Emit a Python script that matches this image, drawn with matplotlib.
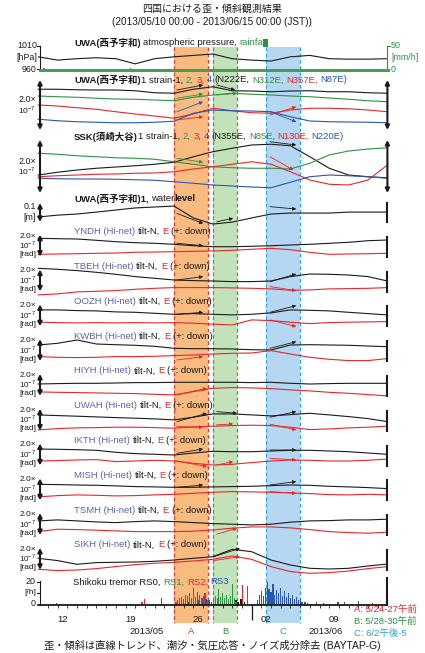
import numpy as np
import matplotlib
matplotlib.use('Agg')
import matplotlib.pyplot as plt

plt.rcParams['font.family'] = ['Liberation Sans', 'Noto Sans CJK JP', 'DejaVu Sans']
plt.rcParams['mathtext.fontset'] = 'custom'
plt.rcParams['mathtext.rm'] = 'Liberation Sans'

W, H = 425, 653
X0, X1 = 38.2, 387.4      # 2013/05/10 00:00 .. 2013/06/15 00:00
NDAY = 36

K, G, R, B = '#1a1a1a', '#2f9142', '#e8262a', '#2857b0'
SLATE = '#5a62ad'

# days since 2013/05/10 00:00 JST
t = np.arange(0, 37, 2)

# UWA atmospheric pressure [hPa] and rainfall [mm/h]
pressure = [987, 980, 983, 985, 983, 972, 983, 987, 990, 993, 983, 980, 978, 987, 990, 983, 982, 982, 983]
rain_t = [0.6, 1.0, 9.5, 20.8, 23.5, 26.0]
rain = [3, 2, 3, 2, 2, 2]

# UWA strain-1..4 [1e-9]
uwa_s1 = [-53, -53, -55, -56, -56, -59, -67, -69, -53, -43, -59, -60, -63, -60, -59, -63, -63, -67, -69]
uwa_s2 = [-80, -83, -85, -89, -92, -93, -96, -99, -85, -76, -69, -73, -76, -80, -83, -88, -93, -99, -103]
uwa_s3 = [-116, -120, -127, -133, -143, -152, -160, -169, -152, -129, -139, -147, -149, -136, -129, -129, -131, -136, -143]
uwa_s4 = [-173, -179, -183, -185, -187, -187, -185, -181, -149, -136, -139, -140, -143, -163, -180, -183, -184, -185, -187]

# SSK strain-1..4 [1e-9]
ssk_s1 = [-148, -137, -128, -121, -116, -111, -105, -97, -75, -55, -41, -28, -25, -31, -75, -121, -148, -155, -159]
ssk_s2 = [-61, -65, -71, -75, -79, -81, -85, -95, -105, -115, -119, -121, -121, -124, -101, -68, -52, -44, -39]
ssk_s3 = [-155, -151, -148, -145, -144, -141, -140, -135, -124, -115, -105, -95, -105, -135, -168, -185, -188, -168, -108]
ssk_s4 = [-161, -163, -164, -164, -165, -167, -169, -175, -181, -188, -192, -196, -199, -177, -155, -148, -151, -155, -161]

# UWA water level [mm]
water = [-90, -80, -74, -64, -53, -42, -37, -32, -95, -127, -117, -95, -74, -69, -69, -69, -64, -64, -64]

# Hi-net tilt, N and E components [1e-9 rad]
stations = ['YNDH', 'TBEH', 'OOZH', 'KWBH', 'HIYH', 'UWAH', 'IKTH', 'MISH', 'TSMH', 'SIKH']
tilt_n = {
    'YNDH': [-66, -70, -73, -86, -100, -110, -116, -126, -140, -150, -150, -146, -140, -133, -126, -116, -106, -90, -83],
    'TBEH': [-18, -28, -41, -58, -78, -101, -118, -135, -141, -145, -151, -151, -145, -101, -75, -78, -85, -101, -145],
    'OOZH': [-86, -86, -93, -96, -106, -110, -120, -130, -123, -130, -136, -130, -116, -86, -90, -96, -110, -123, -136],
    'KWBH': [-89, -72, -39, -79, -86, -92, -102, -122, -126, -126, -129, -136, -139, -89, -86, -89, -92, -99, -106],
    'HIYH': [-131, -127, -124, -124, -121, -117, -117, -114, -114, -114, -114, -117, -114, -124, -131, -127, -124, -124, -124],
    'UWAH': [-92, -99, -105, -112, -119, -125, -132, -142, -115, -82, -82, -92, -102, -89, -76, -92, -109, -129, -159],
    'IKTH': [-85, -88, -92, -98, -118, -131, -138, -145, -125, -108, -112, -112, -105, -98, -98, -105, -112, -125, -138],
    'MISH': [-90, -93, -97, -100, -106, -113, -116, -120, -120, -116, -113, -110, -103, -97, -100, -110, -116, -123, -133],
    'TSMH': [-108, -98, -108, -118, -125, -115, -108, -115, -125, -135, -141, -148, -141, -121, -108, -105, -98, -98, -91],
    'SIKH': [-134, -157, -194, -177, -174, -171, -164, -151, -134, -118, -44, -68, -151, -201, -234, -241, -234, -211, -191],
}
tilt_e = {
    'YNDH': [-226, -223, -220, -216, -213, -206, -203, -200, -196, -193, -186, -176, -166, -180, -206, -226, -223, -220, -216],
    'TBEH': [-284, -274, -254, -248, -241, -228, -218, -211, -211, -211, -214, -218, -224, -238, -234, -224, -221, -218, -211],
    'OOZH': [-209, -213, -216, -213, -216, -213, -216, -213, -219, -229, -236, -186, -193, -209, -223, -213, -209, -206, -203],
    'KWBH': [-205, -212, -215, -212, -205, -205, -202, -195, -189, -179, -172, -169, -145, -179, -212, -232, -245, -245, -225],
    'HIYH': [-210, -214, -217, -220, -224, -227, -234, -240, -207, -174, -167, -170, -177, -190, -200, -214, -224, -237, -250],
    'UWAH': [-242, -229, -222, -219, -215, -215, -219, -225, -212, -205, -199, -195, -199, -215, -239, -232, -222, -215, -205],
    'IKTH': [-205, -201, -195, -191, -211, -205, -198, -205, -228, -245, -238, -221, -205, -195, -198, -205, -205, -198, -185],
    'MISH': [-216, -203, -196, -200, -206, -203, -196, -190, -180, -170, -163, -166, -170, -176, -183, -193, -196, -190, -196],
    'TSMH': [-215, -191, -195, -201, -208, -215, -215, -215, -211, -198, -181, -168, -168, -178, -195, -215, -225, -231, -221],
    'SIKH': [-244, -257, -251, -237, -217, -197, -184, -174, -161, -144, -111, -144, -217, -267, -284, -277, -261, -237, -217],
}

# step estimates during the events: (t0, t1, v0, v1, colour)
fits = {
    'uwa': [(14.3, 17.0, -56, -36, K), (14.3, 17.0, -89, -72, G), (14.3, 17.0, -176, -163, R),
            (14.3, 17.0, -143, -103, B), (18.4, 20.3, -36, -56, K), (18.4, 20.5, -76, -69, G),
            (23.9, 26.6, -156, -123, R), (23.9, 26.6, -143, -183, B)],
    'ssk': [(14.3, 17.0, -81, -97, G), (23.9, 26.3, -75, -128, R), (23.9, 26.6, -15, -28, K)],
    'water': [(14.3, 17.0, -71, -124, K), (18.4, 20.1, -115, -97, K), (23.9, 26.6, -35, -48, K)],
    'YNDH': [(14.3, 17.0, -116, -140, K)],
    'TBEH': [(14.3, 17.0, -135, -101, K), (23.9, 26.6, -151, -75, K), (23.9, 26.6, -201, -241, R)],
    'OOZH': [(14.3, 17.0, -130, -110, K), (23.9, 26.6, -110, -43, K), (23.9, 26.6, -186, -253, R)],
    'KWBH': [(23.9, 26.6, -122, -56, K), (14.3, 17.0, -239, -205, R)],
    'HIYH': [(14.3, 17.4, -240, -174, R)],
    'UWAH': [(14.3, 17.4, -159, -76, K), (18.4, 20.5, -59, -76, K), (23.9, 26.6, -115, -59, K),
             (14.3, 17.0, -209, -215, R), (18.4, 20.1, -192, -182, R), (23.9, 26.6, -185, -242, R)],
    'IKTH': [(14.3, 17.0, -128, -85, K), (23.9, 26.6, -95, -95, K), (14.3, 17.4, -205, -261, R),
             (18.4, 20.1, -245, -211, R), (23.9, 26.6, -178, -195, R)],
    'MISH': [(14.3, 17.0, -120, -97, K), (23.9, 26.6, -97, -63, K), (23.9, 26.6, -163, -180, R)],
    'TSMH': [(18.4, 20.5, -241, -181, R)],
    'SIKH': [(18.1, 20.8, -118, -34, K), (18.1, 20.8, -157, -118, R)],
}

# Shikoku tremor counts [/h], RS0..RS3
rs0_t = [20.4, 20.6, 20.9, 21.3]
rs0 = [4, 3, 5, 3]
rs1_t = [18.1, 18.3, 18.5, 18.6, 18.8, 19.0, 19.2, 19.4, 19.6, 19.8, 20.0, 20.2, 20.4]
rs1 = [5, 8, 6, 14, 7, 10, 6, 9, 5, 8, 18, 6, 3]
rs2_t = [10.7, 11.0, 14.2, 14.4, 14.6, 14.8, 15.0, 15.2, 15.4, 15.6, 15.8, 16.0, 16.2, 16.4, 16.6,
         16.8, 17.0, 17.2, 17.4, 21.1, 21.6]
rs2 = [3, 5, 3, 4, 6, 7, 5, 9, 8, 10, 6, 15, 7, 11, 9, 6, 8, 10, 4, 17, 16]
rs3_t = [1.9, 12.7, 15.5, 16.5, 16.9, 17.3, 17.6, 17.9, 22.6, 22.8, 23.0, 23.2, 23.4, 23.6, 23.8, 24.0,
         24.2, 24.4, 24.6, 24.8, 25.0, 25.2, 25.4, 25.6, 25.8, 26.0, 26.2, 26.4, 26.6, 26.8, 27.0, 27.2,
         27.5, 27.8, 28.7, 29.4, 30.9, 31.6, 33.0, 34.5]
rs3 = [1.4, 5.7, 3, 4, 6, 5, 4, 3, 4, 9, 12, 8, 15, 20, 14, 11, 18, 9, 13, 10, 15, 8, 12, 7, 10, 6,
       9, 5, 7, 4, 5, 3, 3, 2, 3, 2, 2.5, 3, 3.5, 1.5]

# event windows
ev_name = ['A', 'B', 'C']
ev_start = [14.0, 18.0, 23.5]
ev_end = [17.5, 20.5, 27.0]
ev_text = ['A: 5/24-27午前', 'B: 5/28-30午前', 'C: 6/2午後-5']
ev_fill = ['#f9bb80', '#c3e2b9', '#b5d7f1']
ev_edge = ['#e83a30', '#3da24c', '#2aa9e0']
ev_col = ['#e8262a', '#2f9142', '#2a9fd8']

fig = plt.figure(figsize=(W / 100, H / 100), dpi=100)


def px(day):
    return X0 + day * (X1 - X0) / NDAY


def add_panel(top, bottom, ylo, yhi):
    ax = fig.add_axes([X0 / W, 1 - bottom / H, (X1 - X0) / W, (bottom - top) / H])
    ax.set_xlim(0, NDAY)
    ax.set_ylim(ylo, yhi)
    ax.axis('off')
    return ax


def draw_fits(ax, key):
    for t0, t1, v0, v1, c in fits.get(key, []):
        ax.annotate('', xy=(t1, v1), xytext=(t0, v0), annotation_clip=False,
                    arrowprops=dict(arrowstyle='-|>', color=c, lw=0.6, mutation_scale=5,
                                    shrinkA=0, shrinkB=0))


# event shading, full height
sh = fig.add_axes([X0 / W, 0, (X1 - X0) / W, 1])
sh.set_xlim(0, NDAY)
sh.set_ylim(H, 0)
sh.axis('off')
for i in range(3):
    sh.fill_between([ev_start[i], ev_end[i]], 47, 623, color=ev_fill[i], lw=0)
    for xe in (ev_start[i], ev_end[i]):
        sh.plot([xe, xe], [47, 623], color=ev_edge[i], lw=0.9, ls=(0, (3, 2)))

# pressure / rain
ax = add_panel(46, 69.5, 960, 1010)
ax.plot(t, pressure, color=K, lw=0.8)
axr = ax.twinx()
axr.set_ylim(0, 50)
axr.axis('off')
axr.bar(rain_t, rain, width=0.12, color=G)

# strain panels
ax = add_panel(76, 132, -224, 0)
for s, c in zip([uwa_s1, uwa_s2, uwa_s3, uwa_s4], [K, G, R, B]):
    ax.plot(t, s, color=c, lw=0.8, clip_on=False)
draw_fits(ax, 'uwa')

ax = add_panel(138, 196, -232, 0)
for s, c in zip([ssk_s1, ssk_s2, ssk_s3, ssk_s4], [K, G, R, B]):
    ax.plot(t, s, color=c, lw=0.8, clip_on=False)
draw_fits(ax, 'ssk')

ax = add_panel(200, 228, -148, 0)
ax.plot(t, water, color=K, lw=0.8, clip_on=False)
draw_fits(ax, 'water')

# tilt panels
label_y = [231.7 + 34.8 * k for k in range(len(stations))]
for st, L in zip(stations, label_y):
    ax = add_panel(L, L + 38, -380, 0)
    ax.plot(t, tilt_n[st], color=K, lw=0.8, clip_on=False)
    ax.plot(t, tilt_e[st], color=R, lw=0.8, clip_on=False)
    draw_fits(ax, st)

# tremor
axt = add_panel(581.7, 605, 0, 20)
for tt, vv, c in [(rs0_t, rs0, K), (rs1_t, rs1, G), (rs2_t, rs2, R), (rs3_t, rs3, B)]:
    axt.bar(tt, vv, width=0.12, color=c, lw=0)
axt.plot([0, NDAY], [0, 0], color=K, lw=1.3, clip_on=False)
axt.vlines(np.arange(1, NDAY), -2.5, 0, color=K, lw=0.6, clip_on=False)
axt.vlines([22], -12.5, 0, color=K, lw=0.9, clip_on=False)

# overlay for text and scale bars, in pixels
ov = fig.add_axes([0, 0, 1, 1])
ov.set_xlim(0, W)
ov.set_ylim(H, 0)
ov.axis('off')
rend = fig.canvas.get_renderer()


def ink_width(s, size, bold):
    tx = ov.text(0, 0, s, fontsize=size, fontweight='bold' if bold else 'normal')
    w = tx.get_window_extent(rend).width
    tx.remove()
    return w


def advance(s, size, bold=False):
    # bracket with a narrow glyph so side bearings and spaces are counted
    if not s:
        return 0.0
    return ink_width('I' + s + 'I', size, bold) - ink_width('II', size, bold)


def rich(x, y, parts, size=6.8):
    for s, c, bold in parts:
        core = s.strip()
        x += advance(s[:len(s) - len(s.lstrip())], size, bold)
        ov.text(x, y, core, color=c, fontsize=size, fontweight='bold' if bold else 'normal',
                ha='left', va='center')
        x += advance(core, size, bold) + advance(s[len(s.rstrip()):], size, bold)
    return x


def txt(x, y, s, ha='right', c=K, size=6.4, **kw):
    ov.text(x, y, s, ha=ha, va='center', color=c, fontsize=size, **kw)


def scale_bar(x, y0, y1, heads=True):
    if heads:
        ov.annotate('', xy=(x, y0), xytext=(x, y1),
                    arrowprops=dict(arrowstyle='<|-|>', color=K, lw=1.5, mutation_scale=6,
                                    shrinkA=0, shrinkB=0))
    else:
        ov.plot([x, x], [y0, y1], color=K, lw=1.5)


txt(212, 9, '四国における歪・傾斜観測結果', ha='center', size=7.2)
txt(212, 22, '(2013/05/10 00:00 - 2013/06/15 00:00 (JST))', ha='center', size=7.2)

# pressure axes
end = rich(74, 42.5, [('UWA(西予宇和)', K, True), (' atmospheric pressure, ', K, False), ('rainfa', G, False)])
ov.add_patch(plt.Rectangle((end - 0.5, 38.5), 4.5, 8, color=G, lw=0))
ov.plot([40, 40], [46, 70], color=K, lw=0.8)
ov.plot([37.5, 40], [46, 46], color=K, lw=0.8)
ov.plot([37.5, 40], [69, 69], color=K, lw=0.8)
ov.plot([X1, X1], [46, 70], color=G, lw=0.8)
ov.plot([X1, X1 + 2.5], [46, 46], color=G, lw=0.8)
ov.plot([40, 388.5], [70, 70], color='#4c9a57', lw=2.2)
txt(37, 46, '1010')
txt(37, 57.5, '[hPa]')
txt(37, 69, '960')
txt(391, 46, '50', ha='left', c=G)
txt(391, 57.5, '[mm/h]', ha='left', c=G)
txt(391, 69, '0', ha='left', c=G)

# strain labels
rich(74, 80, [('UWA(西予宇和)', K, True), ('1 strain-1, ', K, False), ('2, ', G, False), ('3, ', R, False),
              ('4 ', B, False), ('(N222E, ', K, False), ('N312E, ', G, False), ('N357E, ', R, False),
              ('N87E)', B, False)])
scale_bar(40, 80, 130)
scale_bar(X1, 80, 130)
txt(36, 100, '2.0×')
txt(36, 109.5, r'10$^{-7}$', size=6)

rich(74, 136.5, [('SSK(須崎大谷)', K, True), ('1 strain-1, ', K, False), ('2, ', G, False), ('3, ', R, False),
                 ('4 ', B, False), ('(N355E, ', K, False), ('N85E, ', G, False), ('N130E, ', R, False),
                 ('N220E)', B, False)])
scale_bar(40, 140, 193)
scale_bar(X1, 140, 193)
txt(36, 161, '2.0×')
txt(36, 171, r'10$^{-7}$', size=6)

rich(74, 198.5, [('UWA(西予宇和)1, ', K, True), ('water', K, False), ('level', K, True)])
scale_bar(40, 203, 222)
scale_bar(X1, 203, 222, heads=False)
txt(36, 206.5, '0.1')
txt(36, 217, '[m]')

for st, L in zip(stations, label_y):
    rich(74, L, [(st + ' (Hi-net)', SLATE, False), (' tilt-N, ', K, False), ('E', R, False),
                 (' (+: down)', K, False)])
    scale_bar(40, L + 3, L + 25)
    scale_bar(X1, L + 5, L + 25, heads=False)
    txt(36, L + 4.5, '2.0×', size=6)
    txt(36, L + 13.5, r'10$^{-7}$', size=5.8)
    txt(36, L + 23, '[rad]', size=6)

# tremor axis
rich(73, 582, [('Shikoku tremor RS0, ', K, False), ('RS1, ', G, False), ('RS2, ', R, False), ('RS3', B, False)])
ov.plot([40, 40], [581, 605], color=K, lw=0.8)
ov.plot([37.5, 40], [581.7, 581.7], color=K, lw=0.8)
ov.plot([37.5, 40], [593.3, 593.3], color=K, lw=0.8)
ov.plot([X1, X1], [578, 605], color=K, lw=1.5)
txt(36, 582, '20')
txt(36, 592, '[/h]', size=6)
txt(36, 604, '0')

for d, s in zip([2, 9, 16, 23, 30], ['12', '19', '26', '02', '09']):
    txt(px(d + 0.5), 620, s, ha='center', size=6.8)
txt(147, 632, '2013/05', ha='center', size=6.8)
txt(326, 632, '2013/06', ha='center', size=6.8)
for i in range(3):
    txt(px((ev_start[i] + ev_end[i]) / 2), 632, ev_name[i], ha='center', c=ev_col[i], size=6.8)
    txt(354, 609 + 12 * i, ev_text[i], ha='left', c=ev_col[i], size=6.8)
txt(212, 645, '歪・傾斜は直線トレンド、潮汐・気圧応答・ノイズ成分除去 (BAYTAP-G)', ha='center', size=7.4)

fig.savefig('out.png', dpi=100)
